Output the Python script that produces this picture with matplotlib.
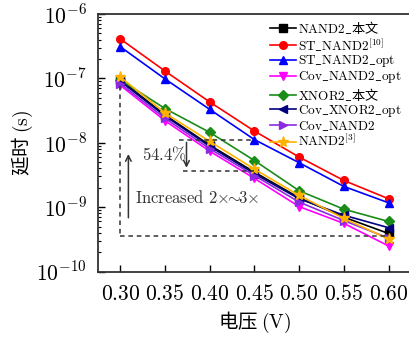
import math
import matplotlib
matplotlib.use("Agg")
import matplotlib.pyplot as plt
from matplotlib.ticker import FixedLocator, FuncFormatter, NullFormatter

plt.rcParams['mathtext.fontset'] = 'cm'
plt.rcParams['font.family'] = ['Noto Sans CJK SC', 'DejaVu Sans']

voltage = [0.30, 0.35, 0.40, 0.45, 0.50, 0.55, 0.60]
y_ticks = [1e-10, 1e-9, 1e-8, 1e-7, 1e-6]

nand2_ours = [9.5e-8, 2.7e-8, 9.2e-9, 3.5e-9, 1.4e-9, 7.0e-10, 3.9e-10]
st_nand2 = [4.1e-7, 1.3e-7, 4.3e-8, 1.52e-8, 6.0e-9, 2.6e-9, 1.35e-9]
st_nand2_opt = [3.1e-7, 9.8e-8, 3.3e-8, 1.12e-8, 4.9e-9, 2.1e-9, 1.17e-9]
cov_nand2_opt = [7.8e-8, 2.2e-8, 7.4e-9, 2.8e-9, 1.02e-9, 5.6e-10, 2.5e-10]
xnor2_ours = [9.5e-8, 3.4e-8, 1.45e-8, 5.3e-9, 1.8e-9, 9.3e-10, 6.0e-10]
cov_xnor2_opt = [9.0e-8, 2.6e-8, 8.8e-9, 3.3e-9, 1.35e-9, 7.5e-10, 4.8e-10]
cov_nand2 = [8.3e-8, 2.4e-8, 8.1e-9, 3.1e-9, 1.2e-9, 6.2e-10, 3.3e-10]
nand2_ref3 = [1.05e-7, 2.9e-8, 1.05e-8, 3.9e-9, 1.52e-9, 6.7e-10, 3.2e-10]

series = [
    (nand2_ours, r'$\mathrm{NAND2\_}$本文', 'black', 's'),
    (st_nand2, r'$\mathrm{ST\_NAND2}^{[10]}$', 'red', 'o'),
    (st_nand2_opt, r'$\mathrm{ST\_NAND2\_opt}$', 'blue', '^'),
    (cov_nand2_opt, r'$\mathrm{Cov\_NAND2\_opt}$', '#ff00ff', 'v'),
    (xnor2_ours, r'$\mathrm{XNOR2\_}$本文', '#1a8c1a', 'D'),
    (cov_xnor2_opt, r'$\mathrm{Cov\_XNOR2\_opt}$', '#000080', '<'),
    (cov_nand2, r'$\mathrm{Cov\_NAND2}$', '#8a2be2', '>'),
    (nand2_ref3, r'$\mathrm{NAND2}^{[3]}$', '#ffb300', '*'),
]

fig = plt.figure(figsize=(4.09, 3.42), dpi=100)
ax = fig.add_axes([0.2396, 0.206, 0.765, 0.753])

for vals, lab, col, mk in series:
    ms = 8 if mk == '*' else 5.5
    ax.plot(voltage, vals, color=col, marker=mk, markersize=ms, lw=1.2, label=lab)

ax.set_yscale('log')
ax.set_xlim(0.275, 0.625)
ax.set_ylim(1e-10, 1e-6)

# dashed guide lines
dash = dict(ls=(0, (3, 2.5)), color='#333333', lw=1.1)
ax.plot([0.30, 0.30], [7.5e-8, 3.6e-10], **dash)
ax.plot([0.30, 0.60], [3.6e-10, 3.6e-10], **dash)
ax.plot([0.366, 0.45], [1.12e-8, 1.12e-8], **dash)
ax.plot([0.37, 0.45], [3.7e-9, 3.7e-9], **dash)

ax.annotate('', xy=(0.374, 3.7e-9), xytext=(0.374, 1.12e-8),
            arrowprops=dict(arrowstyle='->', color='#333333', lw=1.1))
ax.annotate('', xy=(0.309, 7.4e-9), xytext=(0.309, 6.2e-10),
            arrowprops=dict(arrowstyle='->', color='#333333', lw=1.1))
ax.text(0.324, 6.4e-9, r'$54.4\%$', fontsize=12, va='center', ha='left', color='#333333')
ax.text(0.316, 1.37e-9, r'$\mathrm{Increased}\ 2{\times}\!\!{\sim}\!\!3{\times}$', fontsize=12,
        va='center', ha='left', color='#333333')

minor = [m * t for t in y_ticks[:-1] for m in range(2, 10)]
ax.xaxis.set_major_locator(FixedLocator(voltage))
ax.xaxis.set_major_formatter(FuncFormatter(lambda v, p: '$%.2f$' % v))
ax.yaxis.set_major_locator(FixedLocator(y_ticks))
ax.yaxis.set_minor_locator(FixedLocator(minor))
ax.yaxis.set_minor_formatter(NullFormatter())
ax.yaxis.set_major_formatter(FuncFormatter(lambda v, p: '$10^{%d}$' % round(math.log10(v))))
ax.tick_params(axis='both', which='major', direction='in', length=5, width=1, labelsize=15.5, pad=8)
ax.tick_params(axis='y', which='minor', direction='in', length=2.5, width=0.8)
for sp in ax.spines.values():
    sp.set_linewidth(1.3)
    sp.set_color('#333333')

ax.set_xlabel('电压 $(\\mathrm{V})$', fontsize=14, labelpad=4)
ax.set_ylabel('延时 $(\\mathrm{s})$', fontsize=14, labelpad=1)

ax.legend(loc='upper right', bbox_to_anchor=(0.995, 1.01), frameon=False,
          labelspacing=0.02, handlelength=2.0, handletextpad=0.15, borderaxespad=0.15,
          numpoints=1, prop={'family': 'Noto Sans CJK SC', 'size': 9.5})

fig.savefig('out.png', dpi=100)
